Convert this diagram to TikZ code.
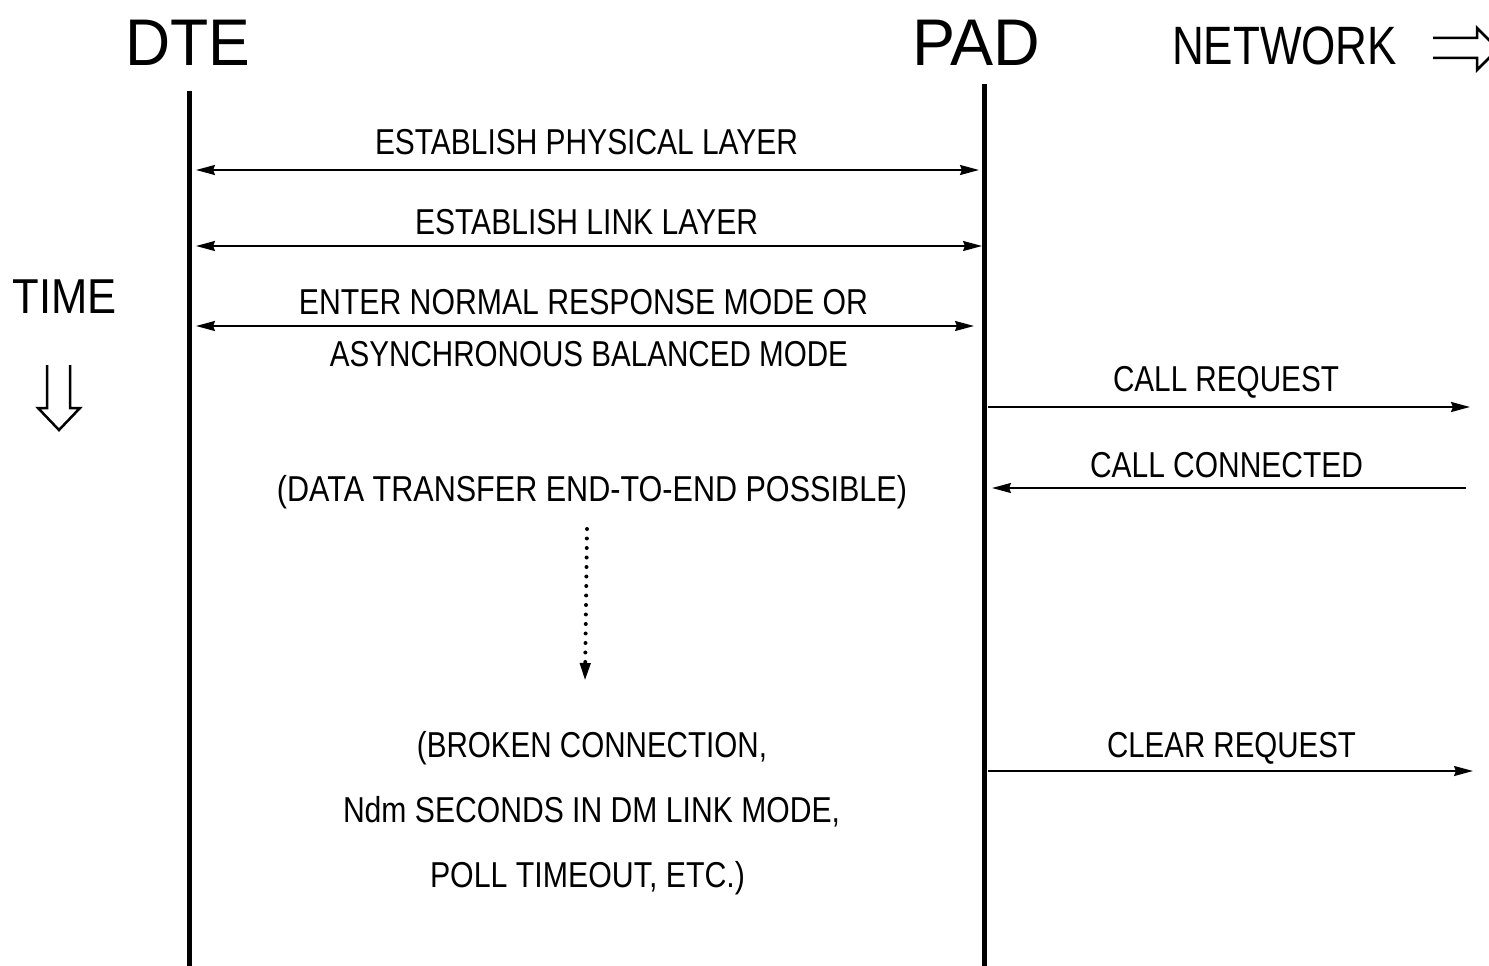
\documentclass[tikz,border=0pt]{standalone}
\usepackage{fontspec}
\setmainfont{Liberation Sans}
\usepackage{graphicx}
\usetikzlibrary{arrows.meta}
\newcommand{\fw}[2]{\resizebox{#1}{\height}{#2}}
\tikzset{
  head/.style={anchor=base,inner sep=0pt,font=\fontsize{66}{66}\selectfont},
  lbl/.style={anchor=base,inner sep=0pt,font=\fontsize{36}{36}\selectfont},
  life/.style={line width=5pt},
  tipst/.style={Stealth[length=19pt,width=10pt,inset=2pt]},
  msg/.style={line width=2pt,-{Stealth[length=19pt,width=10pt,inset=2pt]}},
  both/.style={line width=2pt,{Stealth[length=19pt,width=10pt,inset=2pt]}-{Stealth[length=19pt,width=10pt,inset=2pt]}},
  hollow/.style={line width=2.5pt,line join=miter},
  dots/.style={line width=4pt,line cap=round,dash pattern=on 0pt off 9.5pt,-{Triangle[length=18pt,width=10pt,line cap=butt]}}
}
\begin{document}
\begin{tikzpicture}[x=1pt,y=-1pt]
\useasboundingbox (0,0) rectangle (1489,966);
% headers
\node[head] (dte) at (188,66) {\fw{125pt}{DTE}};
\node[head] (pad) at (976,66) {\fw{128pt}{PAD}};
\node[head,font=\fontsize{54}{54}\selectfont] (net) at (1284.5,64) {\fw{225pt}{NETWORK}};
\node[head,font=\fontsize{49}{49}\selectfont] (time) at (65,313) {\fw{104pt}{TIME}};
% network arrow
\draw[hollow] (1433,38) -- (1477,38) -- (1477,28) -- (1498,49) -- (1477,70) -- (1477,58) -- (1433,58);
% time arrow
\draw[hollow] (47,365) -- (47,408) -- (38,408) -- (59,430) -- (80,408) -- (70,408) -- (70,365);
% lifelines
\coordinate (dtetop) at (189,91);
\coordinate (dtebot) at (189,970);
\coordinate (padtop) at (984,84);
\coordinate (padbot) at (984,970);
\draw[life] (dtetop) -- (dtebot);
\draw[life] (padtop) -- (padbot);
% DTE-PAD messages
\coordinate (m1a) at (196,170); \coordinate (m1b) at (979,170);
\coordinate (m2a) at (196,246); \coordinate (m2b) at (982,246);
\coordinate (m3a) at (196,326); \coordinate (m3b) at (974,326);
\draw[both] (m1a) -- (m1b);
\draw[both] (m2a) -- (m2b);
\draw[both] (m3a) -- (m3b);
\node[lbl] (l1) at (586.5,154) {\fw{423pt}{ESTABLISH PHYSICAL LAYER}};
\node[lbl] (l2) at (586.5,234) {\fw{343pt}{ESTABLISH LINK LAYER}};
\node[lbl] (l3) at (583.5,314) {\fw{569pt}{ENTER NORMAL RESPONSE MODE OR}};
\node[lbl] (l4) at (589,366) {\fw{518pt}{ASYNCHRONOUS BALANCED MODE}};
% PAD-network messages
\coordinate (c1a) at (988,407); \coordinate (c1b) at (1470,407);
\coordinate (c2a) at (1466,488); \coordinate (c2b) at (992,488);
\coordinate (c3a) at (988,771); \coordinate (c3b) at (1473,771);
\draw[msg] (c1a) -- (c1b);
\draw[msg] (c2a) -- (c2b);
\draw[msg] (c3a) -- (c3b);
\node[lbl] (cr) at (1226,391) {\fw{226pt}{CALL REQUEST}};
\node[lbl] (cc) at (1226.5,477) {\fw{273pt}{CALL CONNECTED}};
\node[lbl] (clr) at (1231.5,757) {\fw{249pt}{CLEAR REQUEST}};
% data transfer and dotted arrow
\node[lbl] (dt) at (592,501) {\fw{630pt}{(DATA TRANSFER END-TO-END POSSIBLE)}};
\coordinate (da) at (587,529);
\coordinate (db) at (585,681);
\draw[dots] (da) -- (db);
% broken connection text
\node[lbl] (b1) at (592,757) {\fw{350pt}{(BROKEN CONNECTION,}};
\node[lbl] (b2) at (591.5,822) {\fw{497pt}{Ndm SECONDS IN DM LINK MODE,}};
\node[lbl] (b3) at (587.5,887) {\fw{315pt}{POLL TIMEOUT, ETC.)}};
\end{tikzpicture}
\end{document}
